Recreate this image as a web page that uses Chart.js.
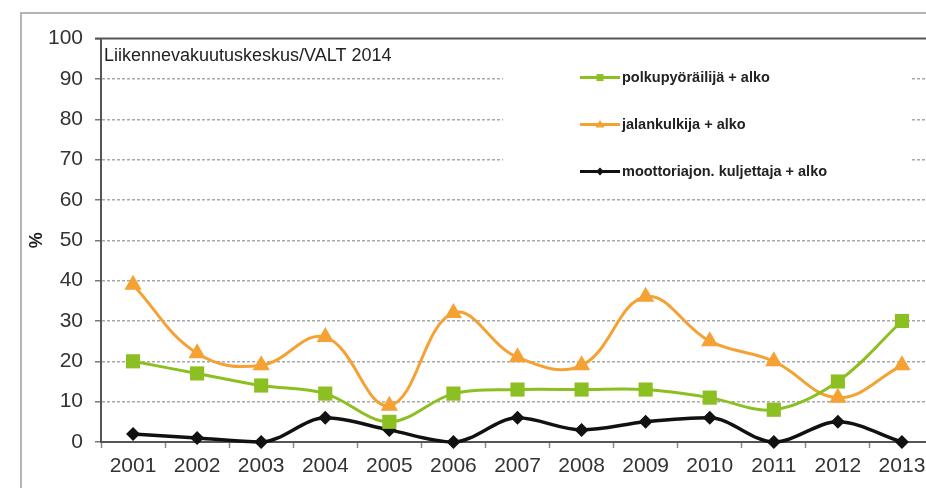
<!DOCTYPE html>
<html>
<head>
<meta charset="utf-8">
<script src="https://cdn.jsdelivr.net/npm/chart.js@4"></script>
<style>
  html, body { margin: 0; padding: 0; background: #fff; overflow: hidden; width: 926px; height: 488px; }
  #wrap { position: absolute; left: 20px; top: 12px; width: 940px; height: 490px;
          border-left: 2px solid #b4b4b4; border-top: 2px solid #b4b4b4; }
  #chart { position: absolute; left: 0; top: 0; }
</style>
</head>
<body>
<div id="wrap"><canvas id="chart" width="930" height="474"></canvas></div>
<script>
const years = ['2001', '2002', '2003', '2004', '2005', '2006', '2007', '2008', '2009', '2010', '2011', '2012', '2013']
const cyclists = [20, 17, 14, 12, 5, 12, 13, 13, 13, 11, 8, 15, 30]
const pedestrians = [39, 22, 19, 26, 9, 32, 21, 19, 36, 25, 20, 11, 19]
const motorists = [2, 1, 0, 6, 3, 0, 6, 3, 5, 6, 0, 5, 0]
const seriesNames = ['polkupyöräilijä + alko', 'jalankulkija + alko', 'moottoriajon. kuljettaja + alko']
const sourceNote = 'Liikennevakuutuskeskus/VALT 2014'

const GREEN = '#8cbf22'
const ORANGE = '#f5a133'
const BLACK = '#111111'
const FONT = '"Liberation Sans", Arial, sans-serif'

function legendMarker(ctx, style, x, y, color) {
    ctx.fillStyle = color
    ctx.beginPath()
    if (style === 'rect') {
        ctx.rect(x - 3.5, y - 3.5, 7, 7)
    } else if (style === 'triangle') {
        ctx.moveTo(x, y - 4.5)
        ctx.lineTo(x + 4.5, y + 3)
        ctx.lineTo(x - 4.5, y + 3)
        ctx.closePath()
    } else {
        ctx.moveTo(x, y - 4)
        ctx.lineTo(x + 4, y)
        ctx.lineTo(x, y + 4)
        ctx.lineTo(x - 4, y)
        ctx.closePath()
    }
    ctx.fill()
}

// frame line on top, source note and the legend box inside the plot
const decor = {
    id: 'decor',
    beforeDatasetsDraw(chart) {
        const { ctx, chartArea: a } = chart
        ctx.save()
        ctx.strokeStyle = '#555'
        ctx.lineWidth = 2
        ctx.beginPath()
        ctx.moveTo(a.left - 6, a.top)
        ctx.lineTo(a.right, a.top)
        ctx.stroke()

        ctx.font = '18px ' + FONT
        ctx.fillStyle = '#222'
        ctx.textBaseline = 'middle'
        ctx.textAlign = 'left'
        ctx.fillText(sourceNote, a.left + 3, a.top + 17)

        ctx.fillStyle = '#fff'
        ctx.fillRect(a.left + 402, a.top + 25, 407, 125)

        ctx.font = 'bold 14.5px ' + FONT
        chart.data.datasets.forEach((ds, i) => {
            const y = a.top + 39 + i * 47
            const x0 = a.left + 479
            ctx.strokeStyle = ds.borderColor
            ctx.lineWidth = 3
            ctx.beginPath()
            ctx.moveTo(x0, y)
            ctx.lineTo(x0 + 40, y)
            ctx.stroke()
            legendMarker(ctx, ds.pointStyle, x0 + 20, y, ds.borderColor)
            ctx.fillStyle = '#222'
            ctx.fillText(ds.label, x0 + 42, y)
        })
        ctx.restore()
    }
}

new Chart(document.getElementById('chart'), {
    type: 'line',
    data: {
        labels: years,
        datasets: [{
            label: seriesNames[0],
            data: cyclists,
            borderColor: GREEN,
            backgroundColor: GREEN,
            borderWidth: 3,
            pointStyle: 'rect',
            pointRadius: 10,
            pointBorderWidth: 0,
            tension: 0.35,
            clip: false
        }, {
            label: seriesNames[1],
            data: pedestrians,
            borderColor: ORANGE,
            backgroundColor: ORANGE,
            borderWidth: 3,
            pointStyle: 'triangle',
            pointRadius: 10,
            pointBorderWidth: 0,
            tension: 0.4,
            clip: false
        }, {
            label: seriesNames[2],
            data: motorists,
            borderColor: BLACK,
            backgroundColor: BLACK,
            borderWidth: 3.5,
            pointStyle: 'rectRot',
            pointRadius: 7,
            pointBorderWidth: 0,
            cubicInterpolationMode: 'monotone',
            clip: false
        }]
    },
    options: {
        responsive: false,
        animation: false,
        layout: { padding: { top: 22, right: 18, left: 0, bottom: 0 } },
        plugins: {
            legend: { display: false },
            tooltip: { enabled: false }
        },
        scales: {
            x: {
                offset: true,
                afterFit: (scale) => { scale.height = 46 },
                grid: {
                    offset: true,
                    drawOnChartArea: false,
                    tickLength: 6,
                    tickColor: '#888',
                    tickWidth: 1.5
                },
                border: { color: '#555', width: 2 },
                ticks: {
                    color: '#333',
                    font: { family: FONT, size: 21 },
                    padding: 6,
                    maxRotation: 0,
                    autoSkip: false
                }
            },
            y: {
                min: 0,
                max: 100,
                afterFit: (scale) => { scale.width = 79 },
                grid: {
                    color: (c) => (c.tick && c.tick.value === 100) ? 'rgba(0,0,0,0)' : '#a8a8a8',
                    lineWidth: 1.5,
                    tickLength: 6,
                    tickColor: '#777',
                    tickWidth: 1.5
                },
                border: { color: '#555', width: 2, dash: [3, 2] },
                ticks: {
                    stepSize: 10,
                    color: '#333',
                    font: { family: FONT, size: 21 },
                    padding: 12
                },
                title: {
                    display: true,
                    text: '%',
                    color: '#222',
                    font: { family: FONT, size: 18, weight: 'bold' },
                    padding: { top: 4, bottom: 4 }
                }
            }
        }
    },
    plugins: [decor]
});
</script>
</body>
</html>
